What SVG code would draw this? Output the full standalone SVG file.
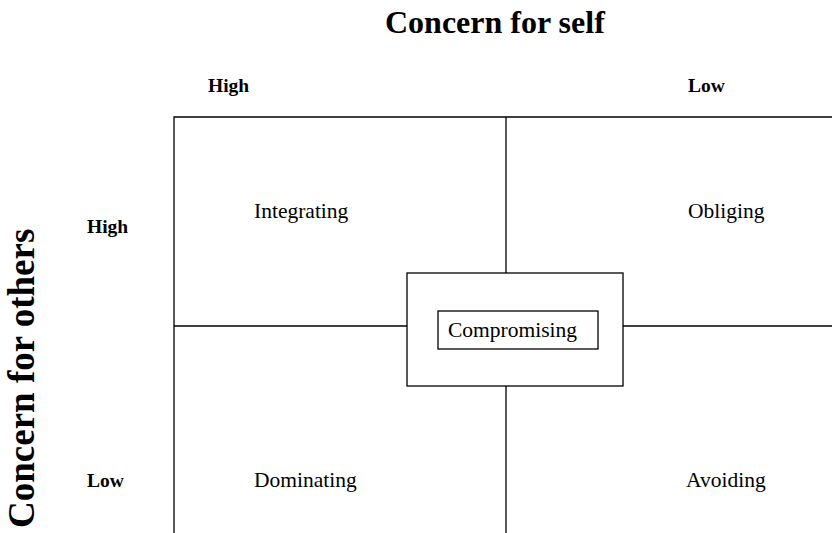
<svg xmlns="http://www.w3.org/2000/svg" width="832" height="533" viewBox="0 0 832 533">
<style>
.ln{stroke:#000;stroke-width:1.3;fill:none}
.box{stroke:#000;stroke-width:1.3;fill:#fff}
.t{font-family:"Liberation Serif","Times New Roman",serif;fill:#000}
.b{font-weight:bold}
.q{font-size:21.5px}
.ax{font-size:19.5px;font-weight:bold}
</style>
<rect width="832" height="533" fill="#fff"/>
<g id="connectors">
<path class="ln" d="M174,533 V117 H832"/>
<path class="ln" d="M506,117 V273 M506,386 V533"/>
<path class="ln" d="M174,326 H407 M623,326 H832"/>
</g>
<g id="title"><text class="t b" x="385" y="33" font-size="32">Concern for self</text></g>
<g id="side"><text class="t b" font-size="37" transform="translate(34,528) rotate(-90)">Concern for others</text></g>
<g id="labels">
<text class="t ax" x="208" y="92">High</text>
<text class="t ax" x="688" y="92">Low</text>
<text class="t ax" x="87" y="233">High</text>
<text class="t ax" x="87" y="487">Low</text>
</g>
<g id="integrating"><text class="t q" x="254" y="218">Integrating</text></g>
<g id="obliging"><text class="t q" x="688" y="218">Obliging</text></g>
<g id="dominating"><text class="t q" x="254" y="487">Dominating</text></g>
<g id="avoiding"><text class="t q" x="686" y="487">Avoiding</text></g>
<g id="compromising">
<rect class="box" x="407" y="273" width="216" height="113"/>
<rect class="box" x="438" y="311" width="160" height="38"/>
<text class="t q" x="448" y="337">Compromising</text>
</g>
</svg>
